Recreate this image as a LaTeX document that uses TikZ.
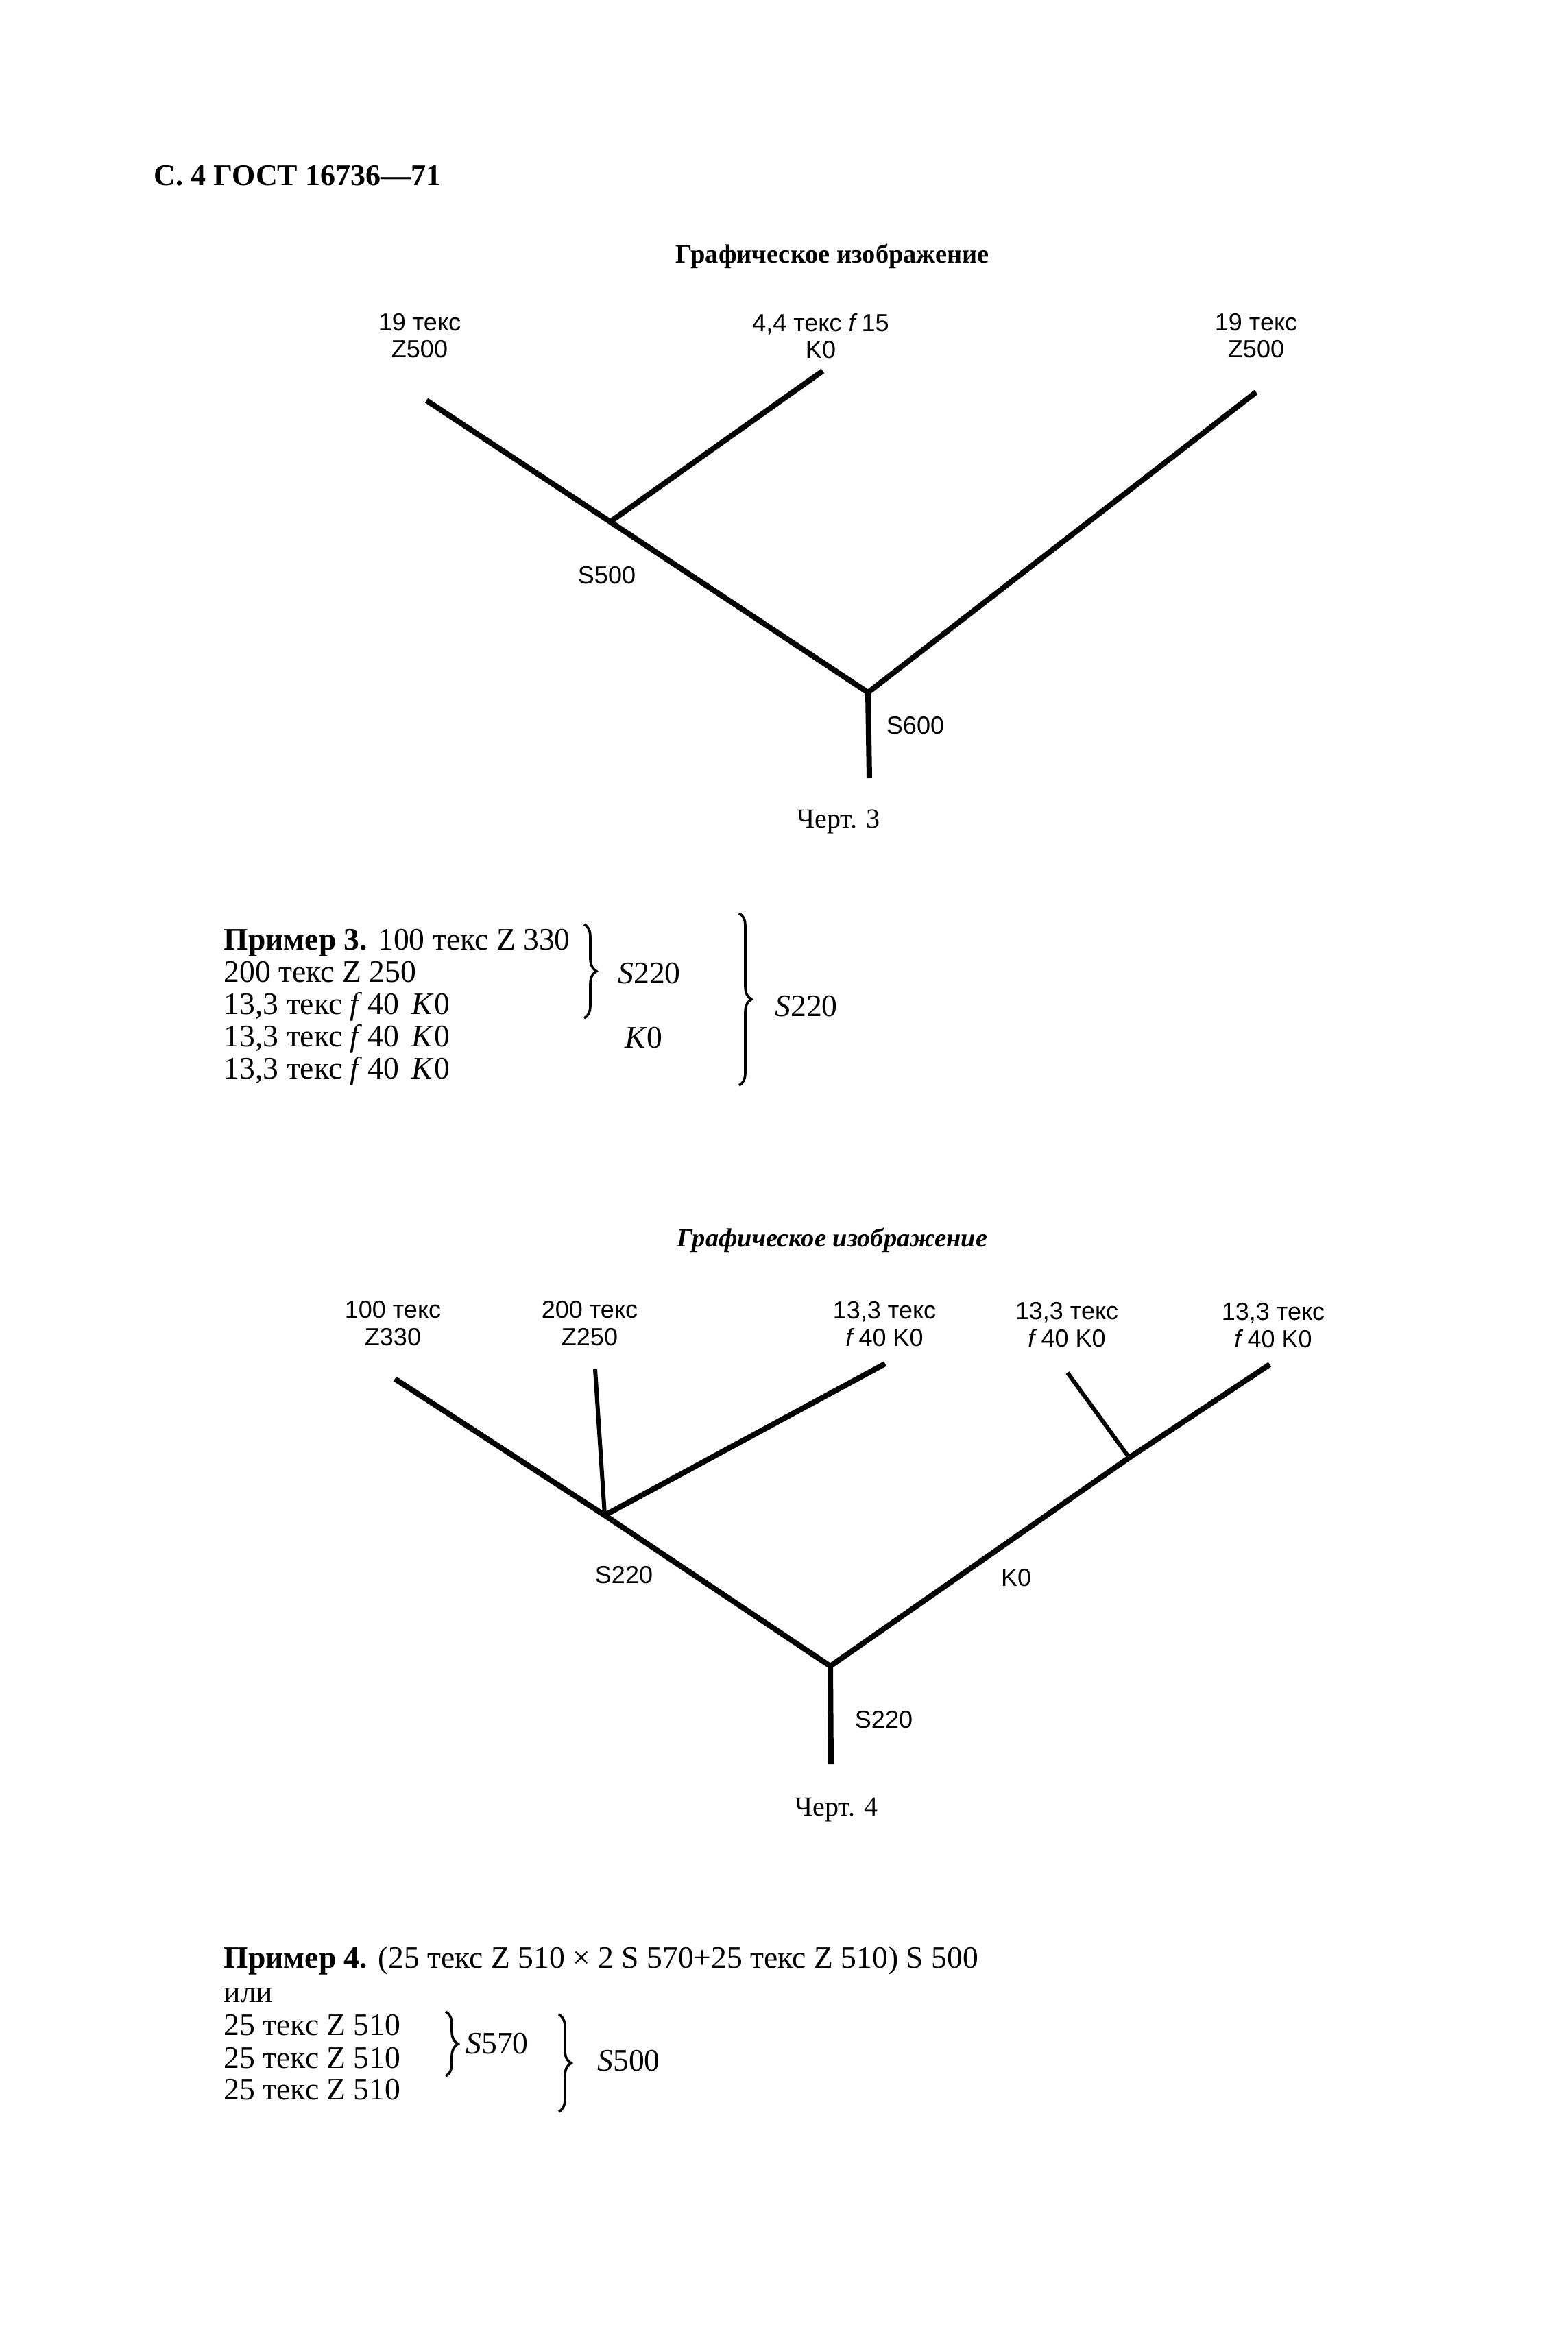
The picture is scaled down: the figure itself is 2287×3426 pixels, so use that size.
\documentclass[tikz,border=0pt]{standalone}
\usepackage{fontspec}
\setmainfont{Liberation Serif}
\setsansfont{Liberation Sans}
\usetikzlibrary{decorations.pathreplacing}
\tikzset{
  lbl/.style={font=\sffamily\fontsize{9}{9.8}\selectfont, align=center, inner sep=0pt},
  sub/.style={font=\sffamily\fontsize{9}{10}\selectfont, inner sep=0pt},
  thread/.style={line width=2pt, line join=round},
  thinthread/.style={line width=1.5pt},
  txt/.style={font=\fontsize{11.4}{13}\selectfont, anchor=base west, inner sep=0pt},
  rtxt/.style={font=\fontsize{11.4}{13}\selectfont, inner sep=0pt},
  capt/.style={font=\fontsize{10}{12}\selectfont, anchor=base, inner sep=0pt},
  ttl/.style={font=\bfseries\fontsize{9.6}{12}\selectfont, anchor=base, inner sep=0pt},
  brc/.style={decorate, decoration={brace, amplitude=4.5pt}, line width=0.9pt},
}
\begin{document}
\begin{tikzpicture}[x=0.25pt, y=-0.25pt]
\path[use as bounding box, fill=white] (0,0) rectangle (2287,3426);

% header
\node[anchor=base west, inner sep=0pt, font=\bfseries\fontsize{11}{13}\selectfont] (hdr) at (224,270) {С. 4 ГОСТ 16736—71};

% ---------- Chart 3 ----------
\node[ttl] (title1) at (1214,383) {Графическое изображение};

\node[lbl] (l1a) at (612,490) {19 текс\\Z500};
\node[lbl] (l1b) at (1197,490) {4,4 текс \textit{f}\,15\\K0};
\node[lbl] (l1c) at (1832,490) {19 текс\\Z500};

\coordinate (a1) at (622,584);
\coordinate (j1) at (890,761);
\coordinate (b1) at (1200,541);
\coordinate (c1) at (1832,572);
\coordinate (r1) at (1266,1010);
\coordinate (s1) at (1268,1135);

\draw[thread] (a1) -- (j1) -- (r1) -- (c1);
\draw[thread] (b1) -- (j1);
\draw[thread] (r1) -- (s1);

\node[sub] (s500) at (885,839) {S500};
\node[sub] (s600) at (1335,1058) {S600};

\node[capt] (cap3) at (1223,1207) {Черт. 3};

% ---------- Example 3 ----------
\node[txt] (e3a) at (326,1385) {\textbf{Пример 3.} 100 текс Z 330};
\node[txt] (e3b) at (326,1432) {200 текс Z 250};
\node[txt] (e3c) at (326,1479) {13,3 текс \textit{f}\,40\ \,\textit{K}0};
\node[txt] (e3d) at (326,1526) {13,3 текс \textit{f}\,40\ \,\textit{K}0};
\node[txt] (e3e) at (326,1573) {13,3 текс \textit{f}\,40\ \,\textit{K}0};

\coordinate (br1t) at (852,1348);
\coordinate (br1b) at (852,1485);
\draw[brc] (br1t) -- (br1b);
\node[rtxt] (e3s1) at (947,1420) {\textit{S}220};
\node[rtxt] (e3k) at (939,1514) {\textit{K}0};

\coordinate (br2t) at (1078,1332);
\coordinate (br2b) at (1078,1583);
\draw[brc] (br2t) -- (br2b);
\node[rtxt] (e3s2) at (1176,1468) {\textit{S}220};

% ---------- Chart 4 ----------
\node[ttl, font=\bfseries\itshape\fontsize{9.6}{12}\selectfont] (title2) at (1214,1818) {Графическое изображение};

\node[lbl] (l2a) at (573,1930) {100 текс\\Z330};
\node[lbl] (l2b) at (860,1930) {200 текс\\Z250};
\node[lbl] (l2c) at (1290,1931) {13,3 текс\\\textit{f}\,40 K0};
\node[lbl] (l2d) at (1556,1932) {13,3 текс\\\textit{f}\,40 K0};
\node[lbl] (l2e) at (1857,1933) {13,3 текс\\\textit{f}\,40 K0};

\coordinate (a2) at (576,2011);
\coordinate (ja) at (882,2210);
\coordinate (r2) at (1211,2430);
\coordinate (s2) at (1212,2573);
\coordinate (jb) at (1647,2126);
\coordinate (c2) at (1852,1990);
\coordinate (d2) at (868,1997);
\coordinate (e2) at (1291,1989);
\coordinate (f2) at (1557,2002);

\draw[thread] (a2) -- (ja) -- (r2) -- (jb) -- (c2);
\draw[thinthread] (d2) -- (ja);
\draw[thread] (e2) -- (ja);
\draw[thinthread] (f2) -- (jb);
\draw[thread] (r2) -- (s2);

\node[sub] (s220a) at (910,2297) {S220};
\node[sub] (k0b) at (1482,2301) {K0};
\node[sub] (s220b) at (1289,2508) {S220};

\node[capt] (cap4) at (1220,2648) {Черт. 4};

% ---------- Example 4 ----------
\node[txt] (e4a) at (326,2870) {\textbf{Пример 4.} (25 текс Z 510 × 2 S 570+25 текс Z 510) S 500};
\node[txt] (e4b) at (326,2920) {или};
\node[txt] (e4c) at (326,2968) {25 текс Z 510};
\node[txt] (e4d) at (326,3016) {25 текс Z 510};
\node[txt] (e4e) at (326,3062) {25 текс Z 510};

\coordinate (br3t) at (650,2934);
\coordinate (br3b) at (650,3028);
\draw[brc] (br3t) -- (br3b);
\node[rtxt] (e4s1) at (725,2981) {\textit{S}570};

\coordinate (br4t) at (815,2938);
\coordinate (br4b) at (815,3080);
\draw[brc] (br4t) -- (br4b);
\node[rtxt] (e4s2) at (917,3006) {\textit{S}500};
\end{tikzpicture}
\end{document}
